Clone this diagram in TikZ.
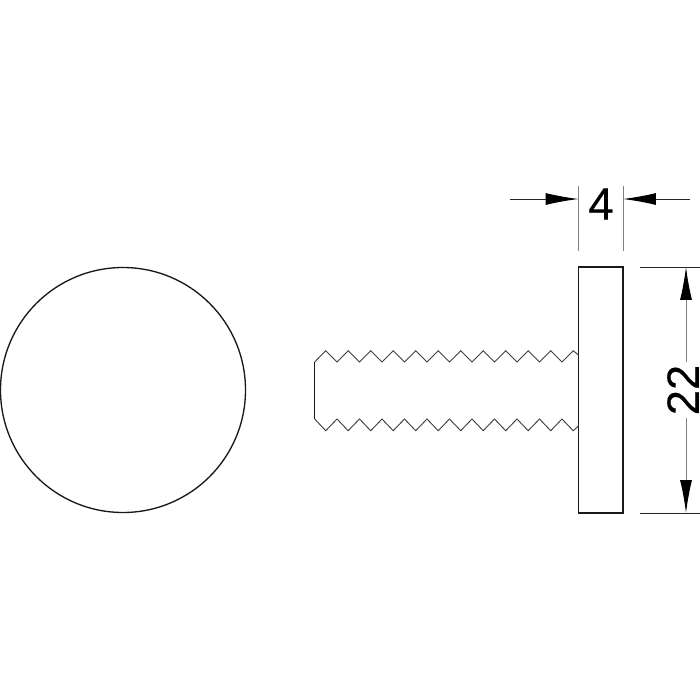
\documentclass[tikz,border=0pt]{standalone}
\usepackage{fontspec}
\setmainfont{Liberation Sans}
\newfontfamily\dimfont[FakeBold=0.3]{Liberation Sans}
\usetikzlibrary{arrows.meta}
\tikzset{
    part/.style={draw,line width=1pt,black!90},
    thread/.style={draw,line width=0.7pt,black!75},
    extline/.style={draw,line width=0.7pt,black!50},
    dimline/.style={draw,line width=0.7pt,black!85},
    tip/.style={-{Latex[length=24.7pt,width=9pt,black]}},
    dimtext/.style={inner sep=0pt,font=\dimfont\fontsize{34}{34}\selectfont}
}
\begin{document}
\begin{tikzpicture}[x=0.75pt,y=-0.75pt]
    \useasboundingbox (0,0) rectangle (700,700);

    % head seen from the front
    \draw[part] (123,390) circle [radius=122.5];

    % head seen from the side
    \draw[part] (578.5,267) rectangle (623,513);

    % thread
    \draw[part] (314.7,362) -- (314.7,419);
    \draw[thread] (314.7,362)
        \foreach \k in {0,...,11} {
            -- ({325.7+22.5*\k},350.7)
            \ifnum\k<11 -- ({337+22.5*\k},362) \fi
        } -- (578.5,355);
    \draw[thread] (314.7,419)
        \foreach \k in {0,...,11} {
            -- ({325.7+22.5*\k},430.7)
            \ifnum\k<11 -- ({337+22.5*\k},419) \fi
        } -- (578.5,426);

    % dimension 4
    \coordinate (wl) at (578.5,199);
    \coordinate (wr) at (623,199);
    \coordinate (wlend) at (510,199);
    \coordinate (wrend) at (690,199);
    \draw[extline] (578.5,186) -- (578.5,251);
    \draw[extline] (623,186) -- (623,251);
    \draw[dimline,tip] (wlend) -- (wl);
    \draw[dimline,tip] (wrend) -- (wr);
    \node[dimtext] (width) at (601,204) {4};

    % dimension 22
    \node[dimtext,rotate=90] (height) at (683,390) {22};
    \coordinate (ht) at (686,267);
    \coordinate (hb) at (686,513);
    \draw[dimline] (640,267) -- (700,267);
    \draw[dimline] (640,513) -- (700,513);
    \draw[extline,tip] (686,362) -- (ht);
    \draw[extline,tip] (686,418) -- (hb);
\end{tikzpicture}
\end{document}
